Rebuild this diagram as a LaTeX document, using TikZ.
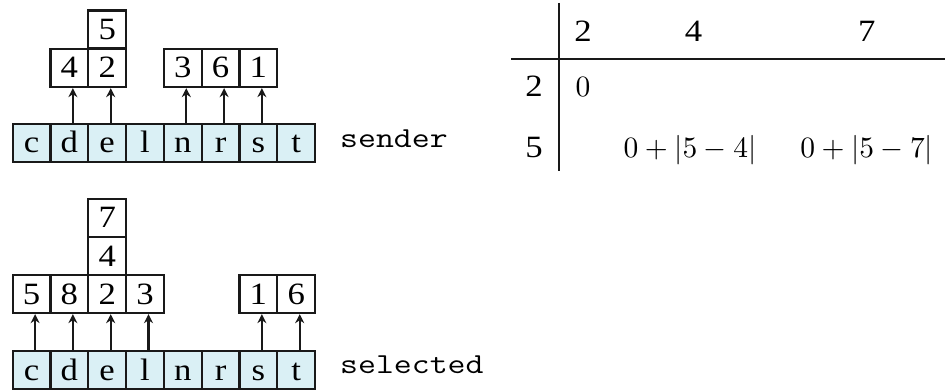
\documentclass[tikz,border=0pt]{standalone}
\usepackage{fontspec}
\setmainfont{Liberation Serif}
\usepackage{graphicx}
\usetikzlibrary{arrows.meta}
\definecolor{cellblue}{RGB}{218,240,245}
\newcommand{\sx}[1]{\scalebox{1.12}[1]{#1}}
\newcommand{\bigmath}[1]{\scalebox{2.95}[2.95]{\fontsize{10}{12}\selectfont$#1$}}
\begin{document}
\begin{tikzpicture}[x=1pt,y=-1pt,
  box/.style={draw=black!90, line width=2.3pt, minimum width=37.8pt, minimum height=38pt, inner sep=0pt, text height=20pt, text depth=0pt, font=\fontsize{31}{34}\selectfont},
  cellbox/.style={box, fill=cellblue},
  ptr/.style={line width=2.3pt, black!90, -{Stealth[length=9pt,width=9pt]}},
  lbl/.style={anchor=base west, inner sep=0pt, font=\fontsize{29}{34}\selectfont\ttfamily},
  tab/.style={anchor=base, inner sep=0pt, font=\fontsize{31}{34}\selectfont},
  rulestyle/.style={line width=2.3pt, black!90}]
\useasboundingbox (0,0) rectangle (945,390);
% bottom rows
\foreach \l [count=\i] in {c,d,e,l,n,r,s,t} {
  \node[cellbox] (a\i) at ({12.7+37.8*(\i-0.5)},143) {\sx{\l}};
  \node[cellbox] (b\i) at ({12.7+37.8*(\i-0.5)},370) {\sx{\l}};
}
% group 1 (sender)
\node[box] (p2) at ({12.7+37.8*1.5},68) {\sx{4}};
\node[box] (p3) at ({12.7+37.8*2.5},68) {\sx{2}};
\node[box] (p3b) at ({12.7+37.8*2.5},29.5) {\sx{5}};
\node[box] (p5) at ({12.7+37.8*4.5},68) {\sx{3}};
\node[box] (p6) at ({12.7+37.8*5.5},68) {\sx{6}};
\node[box] (p7) at ({12.7+37.8*6.5},68) {\sx{1}};
\foreach \i in {2,3,5,6,7}
  \draw[ptr] ([xshift=3.5pt]a\i.north) -- ([xshift=3.5pt]p\i.south);
% group 2 (selected)
\node[box] (q1) at ({12.7+37.8*0.5},294) {\sx{5}};
\node[box] (q2) at ({12.7+37.8*1.5},294) {\sx{8}};
\node[box] (q3) at ({12.7+37.8*2.5},294) {\sx{2}};
\node[box] (q3b) at ({12.7+37.8*2.5},256) {\sx{4}};
\node[box] (q3c) at ({12.7+37.8*2.5},218) {\sx{7}};
\node[box] (q4) at ({12.7+37.8*3.5},294) {\sx{3}};
\node[box] (q7) at ({12.7+37.8*6.5},294) {\sx{1}};
\node[box] (q8) at ({12.7+37.8*7.5},294) {\sx{6}};
\foreach \i in {1,2,3,4,7,8}
  \draw[ptr] ([xshift=3.5pt]b\i.north) -- ([xshift=3.5pt]q\i.south);
% labels
\node[lbl] (sender) at (340,148) {\scalebox{1.2}[1]{sender}};
\node[lbl] (selected) at (340,373) {\scalebox{1.2}[1]{selected}};
% table
\coordinate (vt) at (559,3);
\coordinate (vb) at (559,171);
\coordinate (hl) at (511,59);
\coordinate (hr) at (945,59);
\draw[rulestyle] (vt) -- (vb);
\draw[rulestyle] (hl) -- (hr);
\node[tab] (h2) at (583,42) {\sx{2}};
\node[tab] (h4) at (693.5,42) {\sx{4}};
\node[tab] (h7) at (866.7,42) {\sx{7}};
\node[tab] (r2) at (534,97) {\sx{2}};
\node[tab] (z) at (583,97) {\bigmath{0}};
\node[tab] (r5) at (534,158) {\sx{5}};
\node[tab] (e1) at (690,158) {\bigmath{0+|5-4|}};
\node[tab] (e2) at (866.7,158) {\bigmath{0+|5-7|}};
\end{tikzpicture}
\end{document}
